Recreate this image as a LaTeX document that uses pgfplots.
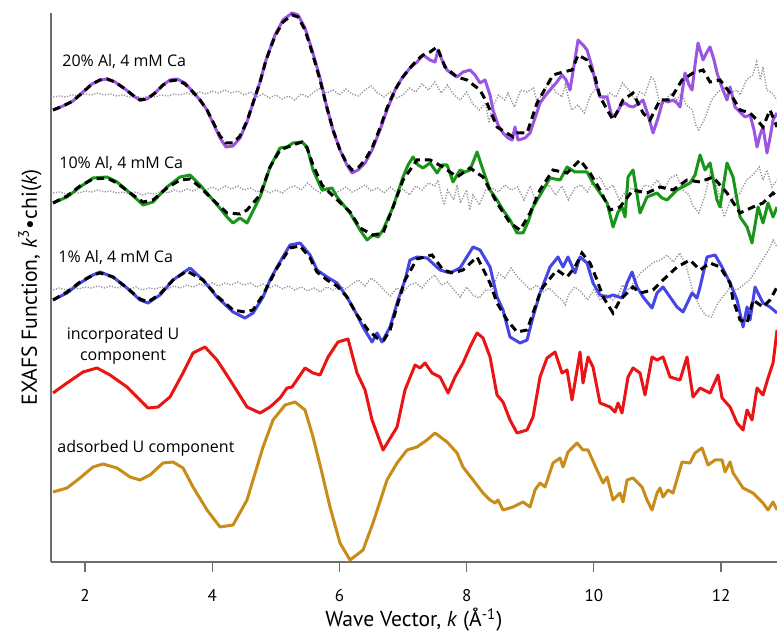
\documentclass[border=0pt]{standalone}
\usepackage{fontspec}
\setmainfont{PT Sans}
\newfontfamily\annfont{Open Sans}
\usepackage{pgfplots}
\pgfplotsset{compat=1.18}
\usetikzlibrary{calc}
\definecolor{cpurple}{RGB}{155,85,225}
\definecolor{cgreen}{RGB}{25,150,25}
\definecolor{cblue}{RGB}{70,70,230}
\definecolor{cred}{RGB}{235,20,20}
\definecolor{cgold}{RGB}{200,140,25}
\definecolor{dotgray}{RGB}{150,150,150}
\definecolor{axisgray}{RGB}{110,110,110}
\begin{document}
\begin{tikzpicture}
\begin{axis}[
  scale only axis, width=363pt, height=274.5pt,
  xmin=1.465, xmax=12.88, ymin=-562, ymax=-13,
  axis x line=bottom, axis y line=left,
  axis line style={-, draw=axisgray, line width=0.6pt},
  xtick={2,4,...,12}, ytick=\empty,
  tick align=outside, major tick length=5pt,
  tick style={draw=axisgray, line width=0.6pt},
  /pgf/number format/assume math mode=true,
  xticklabel style={font=\fontsize{8.5}{10}\selectfont, yshift=-5pt},
  xlabel={Wave Vector, \textit{k} (Å\textsuperscript{-1})},
  ylabel={EXAFS Function, \textit{k}\textsuperscript{3}\textbullet chi(\textit{k})},
  label style={font=\fontsize{10.8}{13}\selectfont},
  x label style={at={(axis description cs:0.5,0)}, anchor=center, yshift=-29pt},
  y label style={at={(axis description cs:-0.0289,0.5)}, anchor=center},
  clip=false,
  gr/.style={draw=dotgray, line width=0.7pt, dash pattern=on 0.6pt off 0.8pt},
  fit/.style={draw=black, line width=1.5pt, dash pattern=on 3.8pt off 2.5pt},
  dat/.style={line width=1.5pt, line join=round},
]
% gray dotted curves
\addplot[gr] coordinates {(1.5,-97)(1.6,-96)(1.7,-97)(1.8,-95)(1.9,-96)(2.0,-94)(2.1,-95)(2.2,-93)(2.3,-95)(2.4,-94)(2.5,-96)(2.6,-95)(2.7,-97)(2.8,-96)(2.9,-98)(3.0,-96)(3.1,-97)(3.2,-95)(3.3,-96)(3.4,-94)(3.5,-95)(3.6,-93)(3.7,-95)(3.8,-92)(3.9,-94)(4.0,-91)(4.1,-93)(4.2,-90)(4.3,-93)(4.4,-91)(4.5,-95)(4.6,-92)(4.7,-97)(4.8,-94)(4.9,-98)(5.0,-95)(5.1,-99)(5.2,-96)(5.3,-100)(5.4,-94)(5.5,-97)(5.6,-92)(5.7,-88)(5.8,-93)(5.9,-90)(6.0,-95)(6.1,-89)(6.2,-94)(6.3,-96)(6.4,-90)(6.5,-86)(6.6,-93)(6.7,-97)(6.8,-92)(6.9,-98)(7.0,-95)(7.1,-88)(7.2,-92)(7.3,-84)(7.4,-90)(7.5,-82)(7.6,-93)(7.7,-85)(7.8,-95)(7.9,-100)(8.0,-92)(8.1,-104)(8.2,-110)(8.3,-103)(8.35,-123)(8.4,-108)(8.5,-95)(8.6,-100)(8.65,-93)(8.75,-107)(8.85,-90)(8.95,-92)(9.05,-88)(9.1,-100)(9.2,-95)(9.3,-80)(9.4,-92)(9.5,-97)(9.55,-85)(9.65,-110)(9.75,-105)(9.85,-113)(9.95,-95)(10.05,-87)(10.15,-100)(10.25,-93)(10.35,-97)(10.45,-83)(10.55,-90)(10.65,-100)(10.72,-92)(10.8,-95)(10.9,-77)(10.95,-80)(11.05,-107)(11.15,-98)(11.22,-93)(11.3,-100)(11.38,-93)(11.45,-105)(11.55,-110)(11.6,-125)(11.65,-130)(11.75,-118)(11.85,-100)(11.95,-92)(12.05,-88)(12.15,-93)(12.25,-90)(12.3,-95)(12.4,-80)(12.5,-75)(12.56,-62)(12.62,-80)(12.66,-67)(12.72,-90)(12.8,-93)(12.88,-100)};
\addplot[gr] coordinates {(1.5,-193)(1.6,-192)(1.7,-194)(1.8,-192)(1.9,-193)(2.0,-191)(2.1,-192)(2.2,-190)(2.3,-192)(2.4,-191)(2.5,-193)(2.6,-192)(2.7,-194)(2.8,-192)(2.9,-195)(3.0,-193)(3.1,-194)(3.2,-191)(3.3,-193)(3.4,-190)(3.5,-192)(3.6,-189)(3.7,-191)(3.8,-188)(3.9,-190)(4.0,-187)(4.1,-190)(4.2,-186)(4.3,-189)(4.4,-186)(4.5,-190)(4.6,-188)(4.7,-192)(4.8,-189)(4.9,-193)(5.0,-190)(5.1,-193)(5.2,-188)(5.3,-186)(5.4,-190)(5.5,-183)(5.6,-189)(5.7,-193)(5.8,-188)(5.9,-194)(6.0,-191)(6.1,-187)(6.2,-192)(6.3,-189)(6.4,-185)(6.5,-191)(6.6,-188)(6.7,-193)(6.8,-187)(6.9,-192)(7.0,-189)(7.1,-195)(7.2,-186)(7.3,-190)(7.4,-183)(7.5,-186)(7.55,-180)(7.6,-195)(7.65,-205)(7.7,-190)(7.8,-200)(7.85,-185)(7.9,-203)(8.0,-190)(8.05,-210)(8.1,-195)(8.2,-205)(8.3,-190)(8.4,-188)(8.5,-192)(8.6,-185)(8.7,-190)(8.8,-187)(8.9,-200)(9.0,-186)(9.1,-203)(9.2,-188)(9.3,-185)(9.4,-195)(9.5,-186)(9.6,-200)(9.7,-188)(9.8,-185)(9.9,-192)(10.0,-180)(10.1,-177)(10.2,-190)(10.3,-185)(10.4,-200)(10.5,-192)(10.6,-188)(10.7,-194)(10.8,-185)(10.9,-187)(11.0,-180)(11.1,-190)(11.2,-178)(11.3,-175)(11.4,-190)(11.5,-195)(11.55,-205)(11.65,-213)(11.75,-195)(11.85,-167)(11.95,-190)(12.05,-217)(12.15,-200)(12.3,-193)(12.4,-180)(12.5,-175)(12.6,-167)(12.66,-180)(12.72,-170)(12.8,-187)(12.88,-180)};
\addplot[gr] coordinates {(1.5,-290)(1.6,-288)(1.7,-290)(1.8,-287)(1.9,-289)(2.0,-287)(2.1,-288)(2.2,-286)(2.3,-288)(2.4,-286)(2.5,-288)(2.6,-286)(2.7,-289)(2.8,-287)(2.9,-290)(3.0,-288)(3.1,-289)(3.2,-287)(3.3,-289)(3.4,-286)(3.5,-288)(3.6,-285)(3.7,-287)(3.8,-284)(3.9,-286)(4.0,-283)(4.1,-286)(4.2,-283)(4.3,-285)(4.4,-282)(4.5,-285)(4.6,-283)(4.7,-287)(4.8,-284)(4.9,-288)(5.0,-285)(5.1,-289)(5.2,-286)(5.3,-290)(5.4,-287)(5.5,-291)(5.6,-288)(5.7,-292)(5.8,-287)(5.9,-290)(6.0,-286)(6.1,-289)(6.2,-284)(6.3,-280)(6.4,-286)(6.5,-278)(6.6,-283)(6.7,-290)(6.8,-296)(6.9,-288)(7.0,-292)(7.1,-285)(7.2,-283)(7.3,-288)(7.4,-280)(7.5,-275)(7.6,-285)(7.7,-282)(7.8,-290)(7.9,-297)(8.0,-287)(8.1,-295)(8.2,-298)(8.3,-290)(8.4,-290)(8.5,-273)(8.6,-278)(8.7,-268)(8.8,-277)(8.9,-283)(9.0,-290)(9.1,-285)(9.2,-292)(9.3,-288)(9.4,-295)(9.5,-300)(9.55,-305)(9.6,-295)(9.7,-287)(9.8,-292)(9.9,-300)(10.0,-290)(10.1,-300)(10.2,-295)(10.3,-300)(10.4,-293)(10.45,-285)(10.55,-290)(10.65,-280)(10.75,-272)(10.85,-267)(10.95,-262)(11.05,-260)(11.15,-255)(11.25,-262)(11.35,-253)(11.45,-265)(11.55,-290)(11.65,-305)(11.75,-315)(11.85,-317)(11.95,-303)(12.05,-295)(12.15,-287)(12.25,-290)(12.35,-285)(12.45,-280)(12.55,-270)(12.65,-260)(12.75,-250)(12.82,-240)(12.88,-247)};
% 20% Al
\addplot[dat, draw=cpurple] coordinates {(1.497,-110)(1.654,-106)(1.811,-101)(1.969,-92)(2.110,-84)(2.236,-80)(2.346,-79)(2.472,-82)(2.629,-89)(2.786,-97)(2.865,-100)(2.975,-99)(3.101,-93)(3.226,-85)(3.336,-80)(3.447,-79)(3.572,-83)(3.698,-92)(3.808,-100)(3.918,-110)(4.013,-123)(4.123,-138)(4.217,-147)(4.327,-146)(4.437,-138)(4.547,-122)(4.642,-103)(4.752,-82)(4.846,-60)(4.987,-35)(5.113,-20)(5.255,-13)(5.349,-15)(5.459,-28)(5.569,-50)(5.695,-78)(5.805,-108)(5.899,-130)(6.009,-150)(6.119,-165)(6.198,-173)(6.292,-170)(6.403,-163)(6.513,-150)(6.638,-130)(6.748,-110)(6.874,-90)(6.984,-78)(7.110,-68)(7.220,-62)(7.314,-55)(7.425,-60)(7.503,-62)(7.550,-50)(7.613,-60)(7.692,-70)(7.770,-74)(7.849,-77)(7.943,-72)(8.053,-70)(8.132,-75)(8.211,-83)(8.289,-80)(8.368,-95)(8.415,-110)(8.494,-125)(8.572,-133)(8.651,-138)(8.714,-140)(8.761,-127)(8.808,-140)(8.871,-139)(8.918,-138)(8.997,-133)(9.075,-118)(9.154,-103)(9.233,-96)(9.311,-90)(9.406,-83)(9.500,-75)(9.563,-80)(9.626,-90)(9.689,-65)(9.752,-40)(9.830,-45)(9.893,-50)(9.972,-67)(10.035,-85)(10.097,-97)(10.208,-97)(10.286,-117)(10.365,-113)(10.428,-105)(10.491,-103)(10.553,-106)(10.616,-107)(10.695,-104)(10.774,-100)(10.852,-115)(10.931,-133)(11.009,-118)(11.088,-100)(11.167,-102)(11.245,-100)(11.308,-103)(11.355,-107)(11.434,-73)(11.497,-85)(11.544,-90)(11.591,-65)(11.638,-43)(11.717,-60)(11.780,-52)(11.827,-47)(11.890,-60)(11.937,-73)(11.984,-82)(12.031,-90)(12.094,-100)(12.142,-87)(12.220,-107)(12.299,-112)(12.377,-117)(12.456,-115)(12.519,-130)(12.566,-147)(12.613,-135)(12.660,-127)(12.723,-153)(12.770,-138)(12.818,-120)(12.881,-113)};
% 10% Al
\addplot[dat, draw=cgreen] coordinates {(1.497,-203)(1.717,-197)(1.921,-187)(2.126,-178)(2.346,-177)(2.503,-182)(2.708,-193)(2.912,-205)(3.069,-202)(3.289,-187)(3.494,-177)(3.651,-175)(3.808,-185)(4.013,-200)(4.233,-217)(4.327,-223)(4.437,-218)(4.547,-223)(4.752,-197)(4.909,-167)(5.066,-148)(5.176,-147)(5.270,-143)(5.412,-142)(5.491,-147)(5.585,-170)(5.726,-190)(5.884,-188)(5.962,-197)(6.167,-213)(6.324,-230)(6.434,-240)(6.528,-235)(6.607,-237)(6.686,-230)(6.843,-207)(7.000,-177)(7.079,-165)(7.157,-157)(7.236,-165)(7.314,-168)(7.425,-163)(7.535,-173)(7.613,-165)(7.692,-165)(7.786,-182)(7.896,-170)(7.975,-172)(8.053,-170)(8.164,-152)(8.258,-170)(8.368,-190)(8.478,-200)(8.572,-210)(8.682,-220)(8.792,-233)(8.887,-233)(8.965,-222)(9.044,-207)(9.201,-190)(9.311,-178)(9.390,-179)(9.469,-180)(9.579,-167)(9.704,-172)(9.893,-172)(9.987,-183)(10.097,-193)(10.208,-203)(10.302,-227)(10.381,-212)(10.443,-207)(10.491,-217)(10.538,-177)(10.616,-170)(10.726,-213)(10.836,-197)(10.994,-193)(11.072,-198)(11.151,-200)(11.308,-190)(11.513,-183)(11.591,-175)(11.670,-155)(11.748,-170)(11.827,-163)(11.937,-200)(11.984,-207)(12.094,-163)(12.189,-177)(12.299,-217)(12.409,-227)(12.487,-243)(12.582,-207)(12.660,-223)(12.739,-203)(12.818,-217)(12.881,-207)};
% 1% Al
\addplot[dat, draw=cblue] coordinates {(1.497,-300)(1.717,-293)(1.921,-283)(2.126,-275)(2.236,-272)(2.440,-277)(2.660,-288)(2.865,-300)(2.991,-303)(3.179,-295)(3.384,-280)(3.651,-268)(3.855,-280)(4.075,-297)(4.327,-312)(4.516,-318)(4.642,-313)(4.799,-297)(4.909,-280)(5.019,-267)(5.223,-245)(5.381,-243)(5.538,-255)(5.648,-270)(5.805,-277)(5.962,-283)(6.119,-297)(6.277,-315)(6.371,-327)(6.513,-342)(6.591,-333)(6.670,-342)(6.796,-327)(6.921,-300)(7.031,-280)(7.110,-260)(7.220,-257)(7.377,-258)(7.582,-270)(7.739,-273)(7.896,-268)(8.101,-247)(8.211,-250)(8.368,-267)(8.478,-297)(8.572,-310)(8.682,-337)(8.840,-343)(8.950,-340)(9.044,-317)(9.154,-293)(9.233,-280)(9.311,-267)(9.437,-257)(9.516,-267)(9.594,-257)(9.704,-273)(9.783,-257)(9.893,-263)(9.987,-283)(10.097,-295)(10.208,-297)(10.302,-295)(10.443,-298)(10.522,-283)(10.601,-272)(10.679,-287)(10.774,-297)(10.915,-308)(10.994,-293)(11.088,-287)(11.198,-297)(11.308,-307)(11.403,-312)(11.544,-293)(11.623,-298)(11.670,-287)(11.780,-257)(11.906,-255)(12.016,-267)(12.142,-283)(12.252,-300)(12.346,-327)(12.409,-307)(12.456,-320)(12.535,-287)(12.660,-303)(12.770,-307)(12.881,-313)};
% incorporated U
\addplot[dat, draw=cred] coordinates {(1.497,-393)(1.717,-383)(1.969,-372)(2.189,-368)(2.393,-375)(2.660,-387)(2.865,-400)(2.991,-408)(3.148,-407)(3.336,-397)(3.541,-373)(3.698,-353)(3.887,-347)(4.075,-360)(4.280,-380)(4.547,-407)(4.752,-413)(4.909,-407)(5.066,-398)(5.176,-388)(5.255,-387)(5.459,-368)(5.585,-373)(5.695,-375)(5.821,-357)(5.978,-342)(6.135,-339)(6.277,-373)(6.403,-390)(6.513,-420)(6.686,-450)(6.906,-427)(7.031,-390)(7.189,-365)(7.267,-368)(7.346,-363)(7.456,-373)(7.582,-377)(7.708,-393)(7.818,-377)(7.943,-363)(8.053,-347)(8.164,-333)(8.258,-338)(8.368,-357)(8.478,-395)(8.572,-402)(8.682,-420)(8.792,-433)(8.950,-430)(9.044,-417)(9.154,-377)(9.264,-358)(9.390,-352)(9.500,-373)(9.579,-370)(9.657,-400)(9.783,-352)(9.830,-383)(9.909,-357)(9.987,-367)(10.097,-403)(10.255,-407)(10.333,-412)(10.381,-403)(10.443,-413)(10.538,-377)(10.616,-368)(10.726,-373)(10.805,-395)(10.915,-357)(10.994,-360)(11.088,-357)(11.198,-377)(11.355,-380)(11.465,-357)(11.560,-397)(11.670,-388)(11.827,-393)(11.953,-375)(12.016,-398)(12.142,-407)(12.252,-423)(12.346,-430)(12.409,-410)(12.487,-420)(12.566,-388)(12.660,-395)(12.739,-378)(12.818,-363)(12.881,-330)};
% adsorbed U
\addplot[dat, draw=cgold] coordinates {(1.497,-492)(1.717,-488)(1.921,-478)(2.126,-467)(2.283,-464)(2.503,-468)(2.708,-477)(2.865,-480)(3.022,-475)(3.226,-463)(3.384,-462)(3.541,-468)(3.698,-487)(3.918,-510)(4.123,-527)(4.327,-525)(4.547,-500)(4.594,-490)(4.799,-447)(4.956,-420)(5.145,-405)(5.302,-402)(5.459,-410)(5.585,-437)(5.726,-473)(5.852,-507)(6.009,-543)(6.167,-560)(6.371,-550)(6.528,-523)(6.748,-480)(6.906,-463)(7.063,-450)(7.220,-447)(7.377,-440)(7.503,-433)(7.692,-442)(7.849,-453)(7.943,-467)(8.101,-480)(8.258,-493)(8.368,-500)(8.447,-503)(8.494,-500)(8.572,-510)(8.730,-507)(8.887,-502)(8.997,-507)(9.075,-490)(9.154,-483)(9.233,-487)(9.358,-463)(9.469,-458)(9.516,-467)(9.594,-452)(9.736,-443)(9.830,-450)(9.909,-450)(10.050,-470)(10.145,-483)(10.208,-477)(10.302,-500)(10.412,-493)(10.459,-502)(10.522,-480)(10.616,-478)(10.758,-487)(10.836,-500)(10.915,-510)(10.994,-493)(11.041,-488)(11.088,-497)(11.167,-490)(11.245,-493)(11.387,-462)(11.513,-463)(11.591,-453)(11.701,-448)(11.796,-465)(11.906,-460)(12.016,-460)(12.063,-472)(12.142,-462)(12.189,-473)(12.346,-488)(12.503,-493)(12.660,-503)(12.739,-510)(12.818,-502)(12.881,-510)};
% fits (dashed)
\addplot[fit] coordinates {(1.497,-110)(1.654,-106)(1.811,-101)(1.969,-92)(2.110,-84)(2.236,-80)(2.346,-79)(2.472,-82)(2.629,-89)(2.786,-97)(2.865,-100)(2.975,-99)(3.101,-93)(3.226,-85)(3.336,-81)(3.447,-80)(3.572,-84)(3.698,-92)(3.808,-100)(3.918,-110)(4.013,-122)(4.123,-136)(4.217,-143)(4.327,-143)(4.437,-136)(4.547,-121)(4.642,-103)(4.752,-82)(4.846,-60)(4.987,-36)(5.113,-22)(5.255,-15)(5.349,-17)(5.459,-30)(5.569,-52)(5.695,-80)(5.805,-108)(5.899,-130)(6.009,-150)(6.119,-164)(6.198,-170)(6.292,-168)(6.403,-160)(6.513,-148)(6.638,-128)(6.748,-108)(6.874,-90)(6.984,-78)(7.110,-68)(7.220,-60)(7.314,-55)(7.425,-52)(7.535,-47)(7.660,-67)(7.849,-77)(8.006,-80)(8.211,-90)(8.320,-103)(8.478,-127)(8.730,-137)(8.792,-133)(8.950,-133)(9.107,-103)(9.358,-75)(9.516,-72)(9.657,-70)(9.752,-55)(9.893,-60)(10.019,-77)(10.097,-97)(10.302,-120)(10.459,-100)(10.616,-93)(10.774,-113)(10.884,-120)(11.041,-100)(11.198,-100)(11.387,-80)(11.560,-73)(11.717,-70)(11.827,-82)(11.984,-80)(12.142,-93)(12.299,-110)(12.456,-113)(12.566,-120)(12.660,-127)(12.770,-110)(12.881,-127)};
\addplot[fit] coordinates {(1.497,-203)(1.717,-196)(1.921,-186)(2.126,-179)(2.346,-178)(2.503,-183)(2.708,-193)(2.912,-202)(3.069,-200)(3.289,-188)(3.494,-180)(3.651,-179)(3.808,-187)(4.013,-200)(4.233,-213)(4.437,-214)(4.547,-210)(4.752,-195)(4.909,-167)(5.066,-150)(5.270,-145)(5.412,-142)(5.491,-148)(5.585,-165)(5.726,-185)(5.884,-195)(6.167,-212)(6.324,-228)(6.528,-235)(6.686,-233)(6.843,-207)(7.000,-180)(7.220,-160)(7.425,-160)(7.629,-167)(7.849,-177)(8.053,-168)(8.258,-177)(8.478,-203)(8.682,-223)(8.840,-230)(8.997,-213)(9.154,-190)(9.358,-170)(9.579,-173)(9.783,-160)(9.940,-173)(10.097,-190)(10.255,-210)(10.412,-207)(10.616,-190)(10.836,-193)(11.041,-187)(11.245,-190)(11.465,-180)(11.670,-182)(11.874,-177)(12.094,-193)(12.299,-213)(12.503,-207)(12.660,-203)(12.818,-193)(12.881,-197)};
\addplot[fit] coordinates {(1.497,-300)(1.717,-292)(1.921,-282)(2.126,-275)(2.236,-273)(2.440,-277)(2.660,-288)(2.865,-299)(2.991,-302)(3.179,-294)(3.384,-280)(3.600,-271)(3.855,-280)(4.075,-296)(4.327,-310)(4.516,-312)(4.642,-310)(4.799,-295)(5.019,-268)(5.223,-248)(5.381,-246)(5.538,-258)(5.648,-272)(5.805,-280)(5.962,-286)(6.119,-297)(6.277,-315)(6.450,-330)(6.591,-338)(6.700,-340)(6.796,-330)(6.921,-303)(7.031,-280)(7.220,-259)(7.456,-255)(7.629,-270)(7.786,-273)(7.943,-270)(8.164,-257)(8.368,-283)(8.478,-303)(8.635,-320)(8.792,-332)(8.950,-330)(9.044,-313)(9.154,-293)(9.201,-287)(9.421,-270)(9.579,-277)(9.704,-267)(9.814,-253)(9.940,-263)(10.050,-280)(10.145,-297)(10.302,-313)(10.412,-300)(10.616,-287)(10.726,-293)(10.931,-290)(11.088,-280)(11.308,-267)(11.513,-260)(11.670,-270)(11.827,-263)(11.984,-267)(12.142,-283)(12.189,-300)(12.299,-320)(12.409,-323)(12.503,-300)(12.660,-307)(12.770,-300)(12.881,-287)};
% annotations
\node[anchor=west, inner sep=0pt, font=\annfont\fontsize{8}{9.6}\selectfont] at (axis cs:1.638,-61) {20\% Al, 4 mM Ca};
\node[anchor=west, inner sep=0pt, font=\annfont\fontsize{8}{9.6}\selectfont] at (axis cs:1.591,-163) {10\% Al, 4 mM Ca};
\node[anchor=west, inner sep=0pt, font=\annfont\fontsize{8}{9.6}\selectfont] at (axis cs:1.575,-257) {1\% Al, 4 mM Ca};
\node[anchor=center, align=center, inner sep=0pt, font=\annfont\fontsize{8}{10.5}\selectfont] at (axis cs:2.597,-345.5) {incorporated U\\component};
\node[anchor=west, inner sep=0pt, font=\annfont\fontsize{8}{9.6}\selectfont] at (axis cs:1.560,-448) {adsorbed U component};
\end{axis}
\pgfresetboundingbox
\path[use as bounding box] ($(current axis.south west)+(-25.5pt,-36.5pt)$) rectangle ($(current axis.north east)+(0pt,6.5pt)$);
\end{tikzpicture}
\end{document}
